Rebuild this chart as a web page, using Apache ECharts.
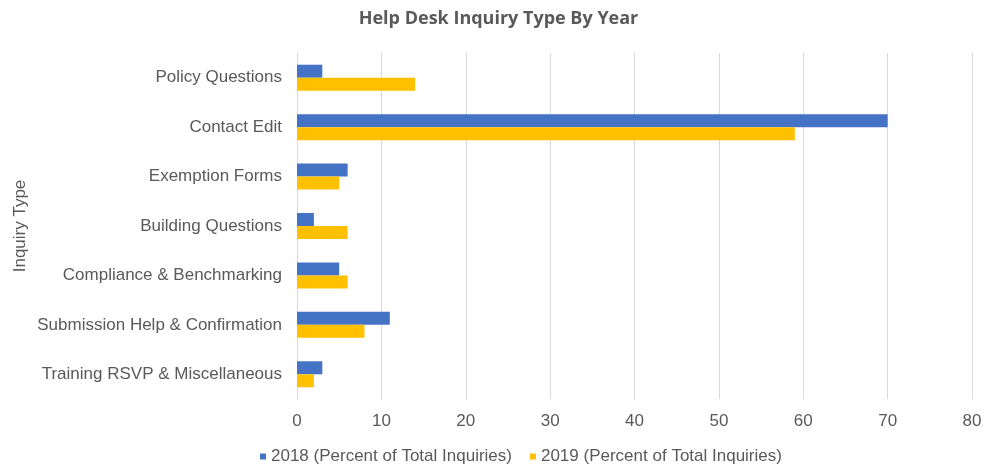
<!DOCTYPE html>
<html>
<head>
<meta charset="utf-8">
<script src="https://cdn.jsdelivr.net/npm/echarts@6/dist/echarts.min.js"></script>
<style>
  html, body { margin: 0; padding: 0; background: #fff; }
  #chart { width: 997px; height: 466px; }
</style>
</head>
<body>
<div id="chart"></div>
<script>
// Inquiry categories, top to bottom
const categories = [
  'Policy Questions',
  'Contact Edit',
  'Exemption Forms',
  'Building Questions',
  'Compliance & Benchmarking',
  'Submission Help & Confirmation',
  'Training RSVP & Miscellaneous'
];
// Percent of total inquiries per year
const values2018 = [3, 70, 6, 2, 5, 11, 3];
const values2019 = [14, 59, 5, 6, 6, 8, 2];
const seriesNames = ['2018 (Percent of Total Inquiries)', '2019 (Percent of Total Inquiries)'];
const xTicks = { min: 0, max: 80, interval: 10 };

const textColor = '#595959';
const font = 'Liberation Sans, Arial, sans-serif';

const chart = echarts.init(document.getElementById('chart'));
chart.setOption({
  animation: false,
  title: {
    text: 'Help Desk Inquiry Type By Year',
    left: 'center',
    top: 5,
    textStyle: { color: textColor, fontSize: 18, fontWeight: 'bold', fontFamily: 'Open Sans, sans-serif' }
  },
  legend: {
    top: 443,
    left: 255,
    itemWidth: 6,
    itemHeight: 6,
    itemGap: 18,
    icon: 'rect',
    textStyle: { color: textColor, fontSize: 17, fontFamily: font },
    data: seriesNames
  },
  grid: { left: 297, right: 25, top: 53, bottom: 67 },
  xAxis: {
    type: 'value',
    min: xTicks.min,
    max: xTicks.max,
    interval: xTicks.interval,
    axisLine: { show: false },
    axisTick: { show: false },
    axisLabel: { color: textColor, fontSize: 17, fontFamily: font, margin: 14 },
    splitLine: { lineStyle: { color: '#d9d9d9', width: 1 } }
  },
  yAxis: {
    type: 'category',
    data: categories,
    inverse: true,
    name: 'Inquiry Type',
    nameLocation: 'middle',
    nameGap: 268,
    nameMoveOverlap: false,
    nameRotate: 90,
    nameTextStyle: { color: textColor, fontSize: 17, fontFamily: font },
    axisLine: { lineStyle: { color: '#d9d9d9' } },
    axisTick: { show: false },
    axisLabel: { color: textColor, fontSize: 17, fontFamily: font, margin: 15 }
  },
  series: [
    {
      name: seriesNames[0],
      type: 'bar',
      data: values2018,
      barWidth: 13,
      barGap: '0%',
      itemStyle: { color: '#4472C4' }
    },
    {
      name: seriesNames[1],
      type: 'bar',
      data: values2019,
      barWidth: 13,
      barGap: '0%',
      itemStyle: { color: '#FFC000' }
    }
  ]
});
</script>
</body>
</html>
